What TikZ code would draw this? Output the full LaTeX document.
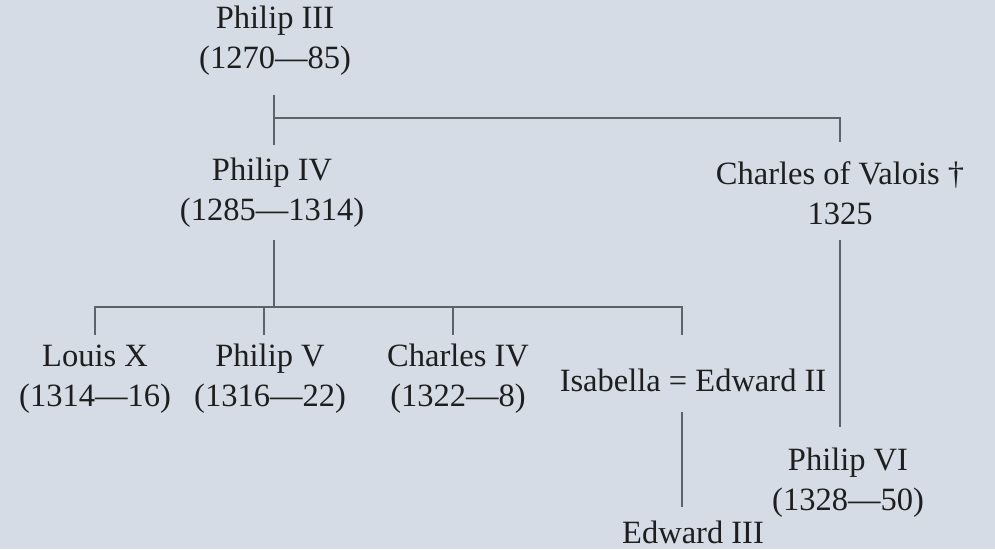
\documentclass[tikz,border=0pt]{standalone}
\usepackage{fontspec}
\setmainfont{Liberation Serif}
\definecolor{bgc}{RGB}{213,220,229}
\definecolor{lnc}{RGB}{95,98,104}
\definecolor{txc}{RGB}{30,30,30}
\begin{document}
\begin{tikzpicture}[x=1pt,y=-1pt,
  person/.style={align=center,inner sep=0pt,text=txc,font=\fontsize{32.5}{40}\selectfont},
  link/.style={draw=lnc,line width=1.3pt}]
\fill[bgc] (0,0) rectangle (995,549);
\useasboundingbox (0,0) rectangle (995,549);
\node[person] (p3) at (275,41) {Philip III\\(1270—85)};
\node[person] (p4) at (272,193) {Philip IV\\(1285—1314)};
\node[person] (cv) at (840,193) {Charles of Valois †\\1325};
\node[person] (l10) at (95,379) {Louis X\\(1314—16)};
\node[person] (p5) at (270,379) {Philip V\\(1316—22)};
\node[person] (c4) at (458,379) {Charles IV\\(1322—8)};
\node[person] (ie) at (693,380) {Isabella = Edward II};
\node[person] (e3) at (693,532) {Edward III};
\node[person] (p6) at (848,483) {Philip VI\\(1328—50)};
% junction coordinates
\coordinate (a1) at (274,95);
\coordinate (j1) at (274,118);
\coordinate (a2) at (274,145);
\coordinate (j2) at (840,118);
\coordinate (a3) at (840,142);
\coordinate (b1) at (274,240);
\coordinate (j3) at (274,307);
\coordinate (k1) at (95,307);
\coordinate (k4) at (682,307);
\coordinate (d1) at (95,335);
\coordinate (d2) at (264,335);
\coordinate (u2) at (264,307);
\coordinate (d3) at (453,335);
\coordinate (u3) at (453,307);
\coordinate (d4) at (682,335);
\coordinate (e1) at (682,412);
\coordinate (e2) at (682,507);
\coordinate (c1) at (840,240);
\coordinate (c2) at (840,427);
\draw[link] (a1) -- (a2);
\draw[link] (j1) -- (j2) -- (a3);
\draw[link] (b1) -- (j3);
\draw[link] (d1) -- (k1) -- (k4) -- (d4);
\draw[link] (u2) -- (d2);
\draw[link] (u3) -- (d3);
\draw[link] (e1) -- (e2);
\draw[link] (c1) -- (c2);
\end{tikzpicture}
\end{document}
